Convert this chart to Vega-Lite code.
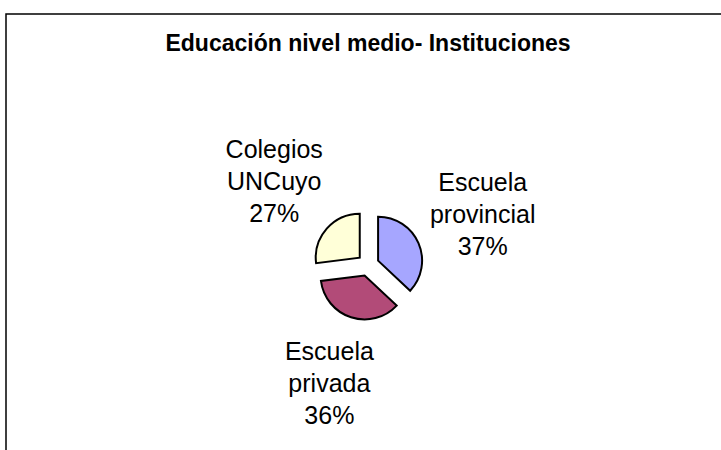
{
  "$schema": "https://vega.github.io/schema/vega-lite/v6.json",
  "width": 724,
  "height": 502,
  "autosize": {"type": "none"},
  "padding": {"left": 6, "top": 14, "right": -9, "bottom": -66},
  "background": "white",
  "config": {
    "view": {"stroke": "black", "strokeWidth": 1.5},
    "style": {"view": {"stroke": "black", "strokeWidth": 1.5}, "cell": {"stroke": "black", "strokeWidth": 1.5}}
  },
  "title": {
    "text": "Educación nivel medio- Instituciones",
    "font": "Liberation Sans",
    "fontSize": 23,
    "fontWeight": "bold",
    "color": "black",
    "anchor": "middle",
    "frame": "group",
    "baseline": "top",
    "offset": -21,
    "dy": 21
  },
  "data": {
    "values": [
      {"institucion": "Escuela provincial", "pct": 37, "label": "Escuela provincial 37%"},
      {"institucion": "Escuela privada", "pct": 36, "label": "Escuela privada 36%"},
      {"institucion": "Colegios UNCuyo", "pct": 27, "label": "Colegios UNCuyo 27%"}
    ]
  },
  "encoding": {
    "theta": {"field": "pct", "type": "quantitative", "stack": true},
    "order": {"field": "pct", "type": "quantitative", "sort": "descending"}
  },
  "layer": [
    {
      "mark": {
        "type": "arc",
        "outerRadius": 44,
        "stroke": "black",
        "strokeWidth": 2,
        "xOffset": {"expr": "11*sin(scale('theta', (datum.pct_start+datum.pct_end)/2))"},
        "yOffset": {"expr": "-11*cos(scale('theta', (datum.pct_start+datum.pct_end)/2))"}
      },
      "encoding": {
        "color": {
          "field": "institucion",
          "type": "nominal",
          "scale": {
            "domain": ["Escuela provincial", "Escuela privada", "Colegios UNCuyo"],
            "range": ["#A6A6FF", "#B24B78", "#FFFFD8"]
          },
          "legend": null
        }
      }
    },
    {
      "mark": {
        "type": "text",
        "radius": 125,
        "dy": -32,
        "font": "Liberation Sans",
        "fontSize": 25,
        "lineHeight": 32,
        "lineBreak": " ",
        "color": "black"
      },
      "encoding": {
        "text": {"field": "label"}
      }
    }
  ]
}
